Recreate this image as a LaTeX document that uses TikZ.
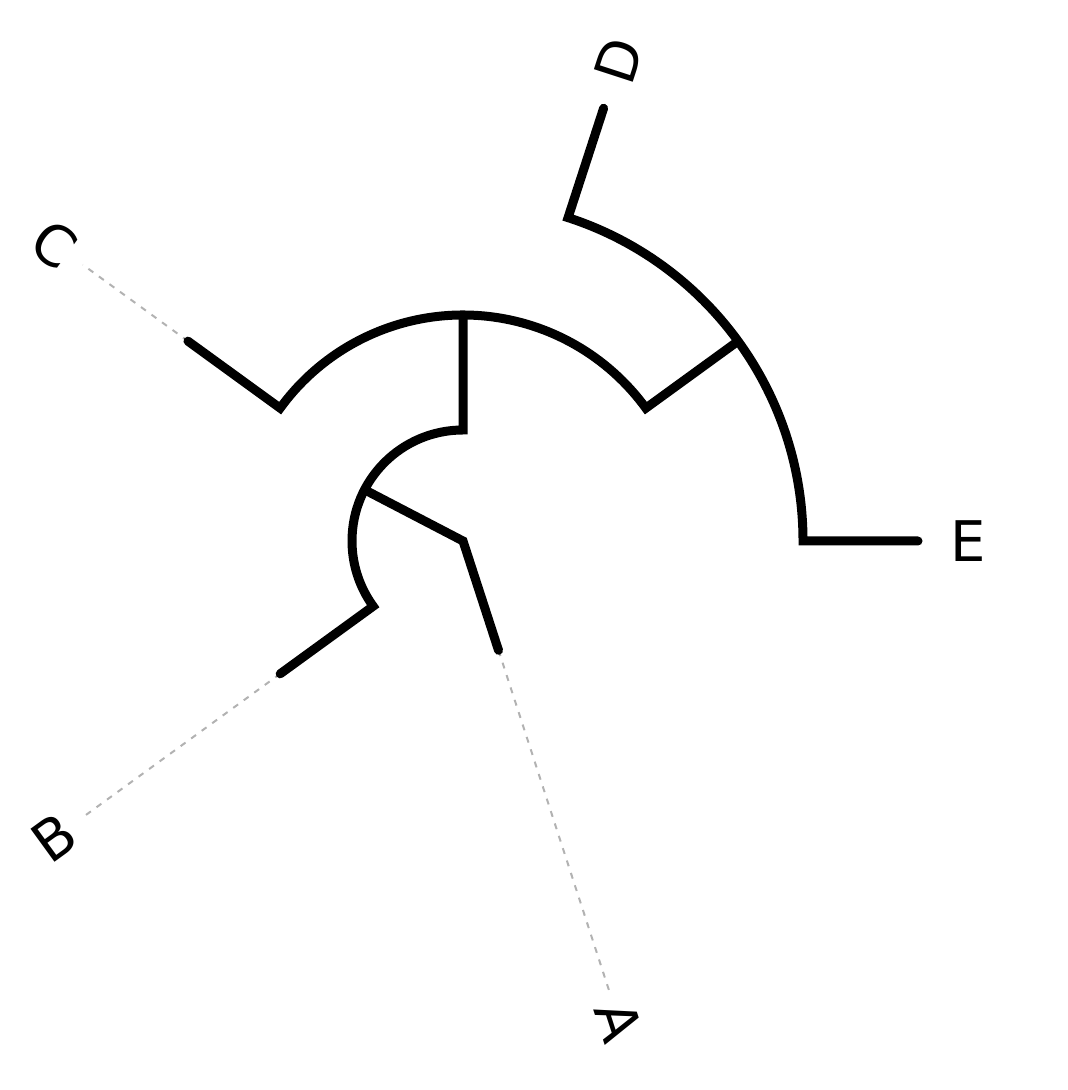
\documentclass[tikz,border=0pt]{standalone}
\usepackage{fontspec}
\setmainfont{DejaVu Sans}
\begin{document}
\begin{tikzpicture}[x=0.5pt, y=0.5pt,
  branch/.style={line width=4.5pt, line join=miter, line cap=round},
  guide/.style={black!30, line width=1pt, dash pattern=on 3pt off 3.5pt},
  leaf/.style={font=\fontsize{28}{28}\selectfont, inner sep=0pt}]
  \useasboundingbox (0, 0) rectangle (1068, 1090);
  \begin{scope}[shift={(463, 549)}]
  \coordinate (o) at (0, 0);
  \coordinate (n) at (152.5:111);
  \coordinate (a) at (-72:115);
  \coordinate (b) at (216:226);
  \coordinate (bi) at (216:111);
  \coordinate (t) at (90:222);
  \coordinate (ti) at (90:111);
  \coordinate (c) at (144:340);
  \coordinate (ci) at (144:226);
  \coordinate (mo) at (36:338);
  \coordinate (d) at (72:455);
  \coordinate (di) at (72:340);
  \coordinate (e) at (0:455);
  \coordinate (ag) at (-72:472);
  \coordinate (bg) at (216:470);
  \coordinate (cg) at (144:470);
  \draw[guide] (a) -- (ag);
  \draw[guide] (b) -- (bg);
  \draw[guide] (c) -- (cg);
  \draw[branch] (n) -- (o) -- (a);
  \draw[branch] (t) -- (ti) arc[start angle=90, end angle=216, radius=111] -- (b);
  \draw[branch] (c) -- (ci) arc[start angle=144, end angle=36, radius=226] -- (mo);
  \draw[branch] (d) -- (di) arc[start angle=72, end angle=0, radius=340] -- (e);
  \node[leaf, rotate=-72] (la) at (-72:505) {A};
  \node[leaf, rotate=36] (lb) at (216:505) {B};
  \node[leaf, rotate=-36] (lc) at (144:505) {C};
  \node[leaf, rotate=72] (ld) at (72:505) {D};
  \node[leaf] (le) at (0:505) {E};
  \end{scope}
\end{tikzpicture}
\end{document}
